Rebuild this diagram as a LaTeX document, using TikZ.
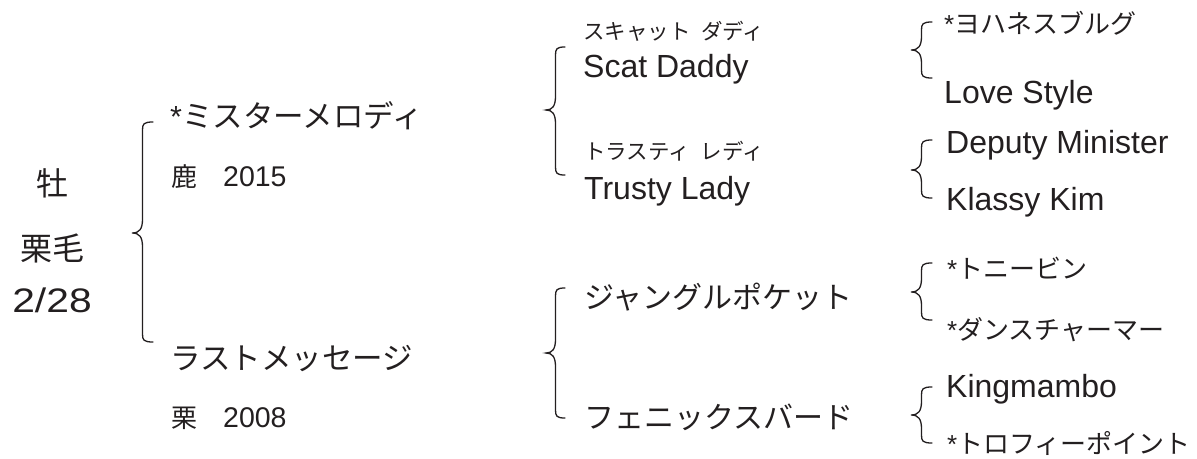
\documentclass[tikz,border=0pt]{standalone}
\usepackage{fontspec}
\setmainfont{Liberation Sans}
\newfontfamily\jp{Noto Sans CJK JP}
\definecolor{ink}{HTML}{231F20}
\newcommand\pbrace[5]{% tip x, end x, top y, tip y, bottom y
  \pgfmathsetmacro\xl{(#1+#2)/2}
  \draw[bracestyle] (#2,#3) .. controls (\xl+1,#3) and (\xl,#3+2) .. (\xl,#3+8)
    -- (\xl,#4-14) .. controls (\xl,#4-4) and (\xl-3,#4) .. (#1,#4)
    .. controls (\xl-3,#4) and (\xl,#4+4) .. (\xl,#4+14)
    -- (\xl,#5-8) .. controls (\xl,#5-2) and (\xl+1,#5) .. (#2,#5);}
\begin{document}
\begin{tikzpicture}[x=1pt,y=-1pt,
  lbl/.style={anchor=base west, inner sep=0pt, text=ink},
  big/.style={lbl, font=\fontsize{32}{38}\selectfont},
  bigjp/.style={lbl, font=\fontsize{30}{36}\selectfont\jp},
  mid/.style={lbl, font=\fontsize{28.5}{34}\selectfont},
  ruby/.style={lbl, font=\fontsize{21.5}{25}\selectfont\jp},
  rjp/.style={lbl, font=\fontsize{26}{31}\selectfont},
  ctr/.style={anchor=base, inner sep=0pt, text=ink},
  bracestyle/.style={draw=ink, line width=1.3pt, line cap=round}]
\useasboundingbox (0,0) rectangle (1197,458);
% left column
\node[ctr, font=\fontsize{32}{38}\selectfont\jp] (sex) at (52,195) {牡};
\node[ctr, font=\fontsize{32}{38}\selectfont\jp] (col) at (52,260) {栗毛};
\node[ctr, font=\fontsize{34}{40}\selectfont] (date) at (52,312) {\scalebox{1.2}[1]{2/28}};
\pbrace{132}{153}{122}{233}{342}
% parents
\node[lbl, font=\fontsize{30.5}{36}\selectfont] (sire) at (170,127) {*{\jp ミスターメロディ}};
\node[mid] (sirey) at (171,186) {{\jp\fontsize{26}{31}\selectfont 鹿　}2015};
\node[bigjp, font=\fontsize{30.5}{36}\selectfont\jp] (dam) at (170,369) {ラストメッセージ};
\node[mid] (damy) at (171,427) {{\jp\fontsize{26}{31}\selectfont 栗　}2008};
\pbrace{546}{565}{47}{110}{175}
\pbrace{546}{565}{288}{353}{418}
% grandparents
\node[ruby] (ss-r) at (583,39) {スキャット\hspace{0.5em}ダディ};
\node[big] (ss) at (583,77) {Scat Daddy};
\node[ruby] (sd-r) at (584,159) {トラスティ\hspace{0.5em}レディ};
\node[big] (sd) at (584,199) {Trusty Lady};
\node[bigjp] (ds) at (584,308) {ジャングルポケット};
\node[bigjp] (dd) at (584,428) {フェニックスバード};
% great-grandparents
\pbrace{911}{932}{22}{50}{78}
\pbrace{911}{932}{140}{170}{198}
\pbrace{911}{932}{263}{292}{320}
\pbrace{911}{932}{387}{415}{443}
\node[rjp] (sss) at (944,33) {*{\jp ヨハネスブルグ}};
\node[big] (ssd) at (944,103) {Love Style};
\node[big] (sds) at (946,153) {Deputy Minister};
\node[big] (sdd) at (946,210) {Klassy Kim};
\node[rjp] (dss) at (947,278) {*{\jp トニービン}};
\node[rjp] (dsd) at (947,339) {*{\jp ダンスチャーマー}};
\node[big] (dds) at (946,397) {Kingmambo};
\node[rjp] (ddd) at (947,453) {*{\jp トロフィーポイント}};
\end{tikzpicture}
\end{document}
